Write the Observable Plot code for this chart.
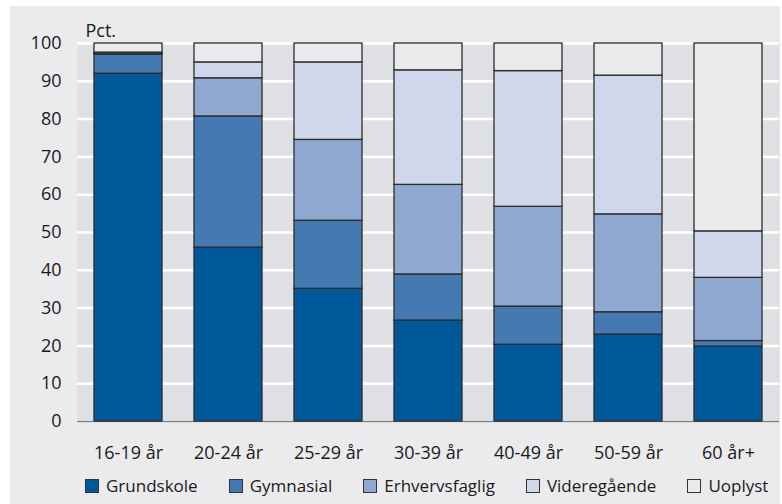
<!DOCTYPE html>
<html>
<head>
<meta charset="utf-8">
<script src="https://cdn.jsdelivr.net/npm/d3@7"></script>
<script src="https://cdn.jsdelivr.net/npm/@observablehq/plot@0.6"></script>
<style>
  html, body { margin: 0; padding: 0; background: #ffffff; }
  #wrap { position: absolute; left: 10px; top: 6px; width: 770px; height: 498px; background: #ebebee; font-family: "Open Sans", sans-serif; }
  #legend { display: flex; align-items: center; padding-left: 75px; margin-top: 2px; font-size: 17px; color: #1a1a1a; }
  .item { display: flex; align-items: center; margin-right: 31px; }
  .sw { width: 14px; height: 14px; border: 1px solid #333; margin-right: 7px; box-sizing: border-box; }
  #chart svg text { font-size: 18px; }
</style>
</head>
<body>
<div id="wrap"><div id="chart"></div><div id="legend"></div></div>
<script>
const ages = ["16-19 år", "20-24 år", "25-29 år", "30-39 år", "40-49 år", "50-59 år", "60 år+"];
const levels = ["Grundskole", "Gymnasial", "Erhvervsfaglig", "Videregående", "Uoplyst"];
const colors = ["#00589b", "#4479b2", "#8ea8cf", "#cfd8eb", "#ebebee"];
const grundskole     = [92.0, 46.0, 35.1, 26.7, 20.3, 23.0, 19.8];
const gymnasial      = [5.0, 34.7, 18.0, 12.2, 10.1, 5.9, 1.5];
const erhvervsfaglig = [0.4, 10.1, 21.4, 23.7, 26.4, 25.9, 16.7];
const videregaaende  = [0.2, 4.2, 20.5, 30.3, 35.9, 36.7, 12.3];
const uoplyst        = [2.4, 5.0, 5.0, 7.1, 7.3, 8.5, 49.7];
const yTicks = [0, 10, 20, 30, 40, 50, 60, 70, 80, 90, 100];

const series = [grundskole, gymnasial, erhvervsfaglig, videregaaende, uoplyst];
const data = [];
ages.forEach((a, i) => levels.forEach((l, j) => data.push({age: a, level: l, value: series[j][i]})));

const chart = Plot.plot({
  width: 770,
  height: 466,
  marginLeft: 67,
  marginRight: 1,
  marginTop: 37,
  marginBottom: 51,
  style: {fontFamily: "Open Sans, sans-serif", fontSize: "18px", color: "#1a1a1a", background: "transparent"},
  x: {domain: ages, paddingInner: 0.32, paddingOuter: 0.16, label: null},
  y: {domain: [0, 100], label: null},
  color: {domain: levels, range: colors},
  marks: [
    Plot.frame({fill: "#dfe0e3", stroke: null}),
    Plot.gridY(yTicks, {stroke: "#ffffff", strokeOpacity: 1, strokeWidth: 2.5}),
    Plot.ruleY([0], {stroke: "#808080", strokeWidth: 1.5}),
    Plot.barY(data, {x: "age", y: "value", fill: "level", stroke: "#2b2b2b", strokeWidth: 1.3, inset: 0}),
    Plot.axisY(yTicks, {tickSize: 0, tickPadding: 16, fontSize: 18, label: null}),
    Plot.axisX({tickSize: 0, tickPadding: 25, fontSize: 18, label: null}),
    Plot.text(["Pct."], {frameAnchor: "top-left", dx: 8, dy: -19, textAnchor: "start", fontSize: 18, fill: "#1a1a1a"})
  ]
});
document.getElementById("chart").appendChild(chart);

const legend = document.getElementById("legend");
levels.forEach((l, j) => {
  const it = document.createElement("div");
  it.className = "item";
  const sw = document.createElement("div");
  sw.className = "sw";
  sw.style.background = colors[j];
  const tx = document.createElement("span");
  tx.textContent = l;
  it.appendChild(sw); it.appendChild(tx);
  legend.appendChild(it);
});
</script>
</body>
</html>
